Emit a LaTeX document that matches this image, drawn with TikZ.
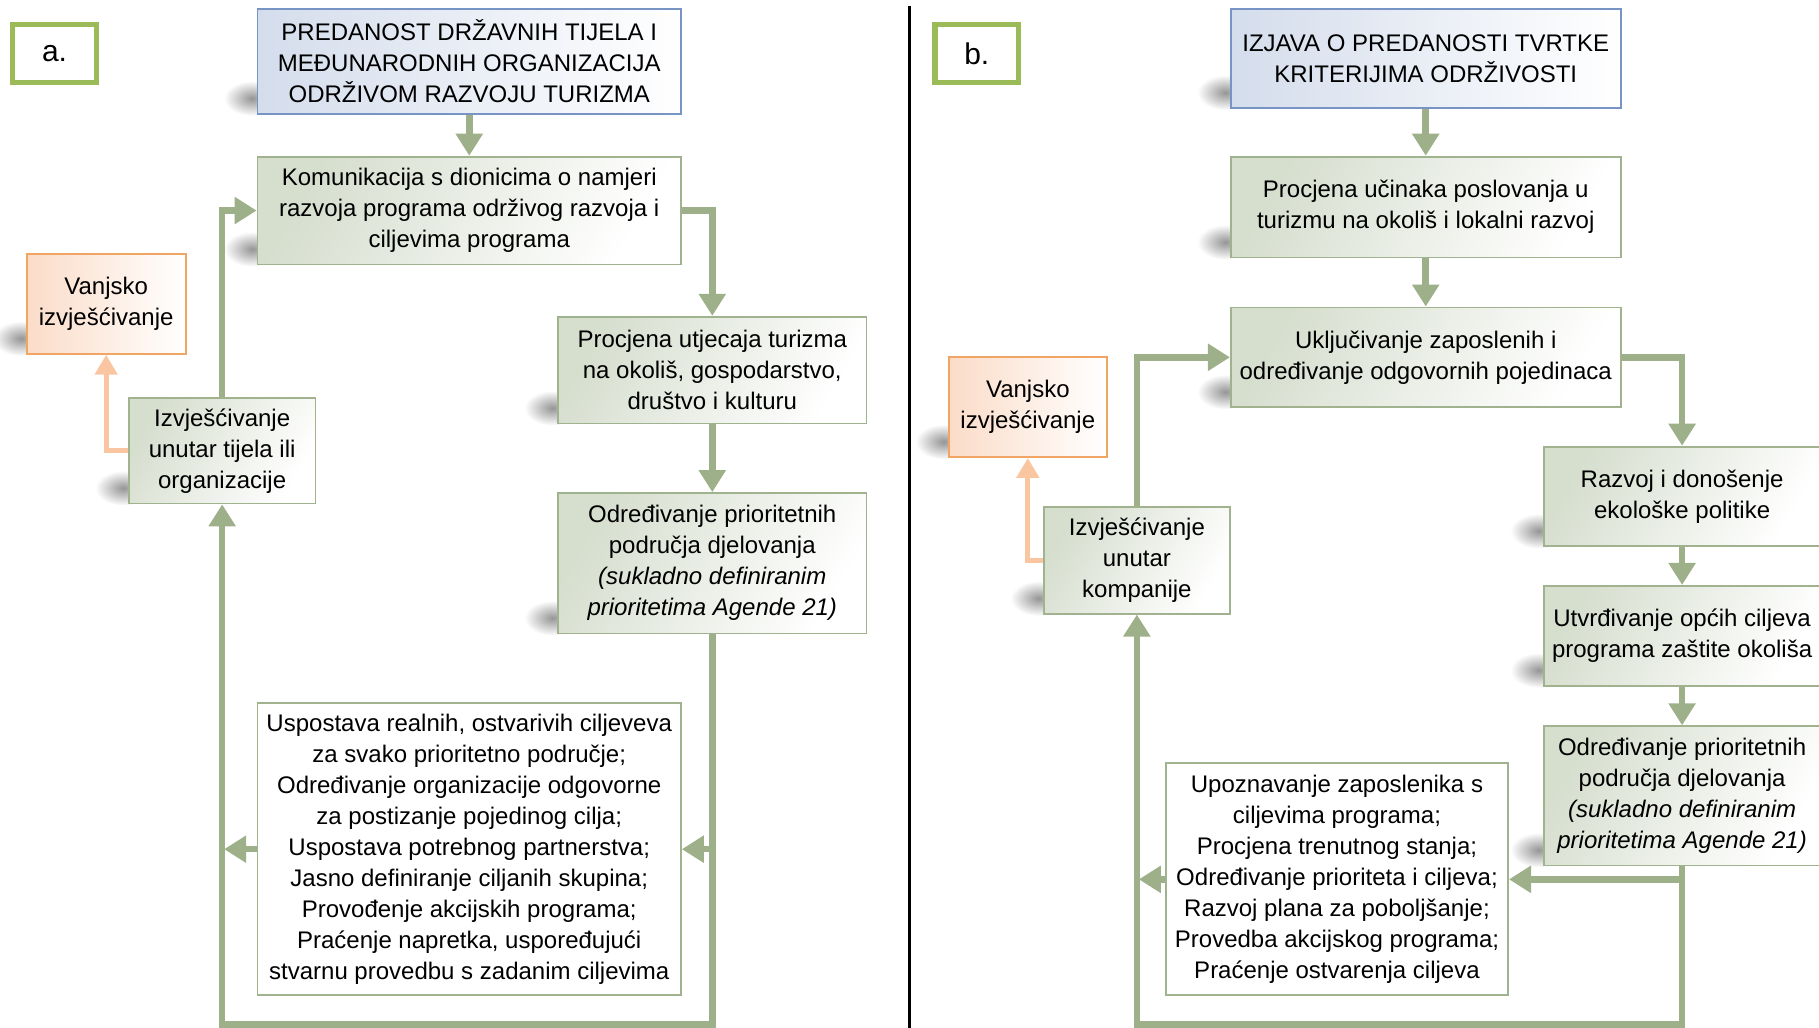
\documentclass[tikz,border=0pt]{standalone}
\usepackage{fontspec}
\setmainfont{Liberation Sans}
\usetikzlibrary{arrows.meta,fadings}
\pgfdeclarelayer{background}
\pgfsetlayers{background,main}
\tikzfading[name=softblob, inner color=transparent!0, outer color=transparent!100]
\definecolor{gfill}{RGB}{214,222,206}
\definecolor{gborder}{RGB}{160,178,142}
\definecolor{arrcol}{RGB}{157,176,137}
\definecolor{bfill}{RGB}{212,221,236}
\definecolor{bborder}{RGB}{120,148,196}
\definecolor{ofill}{RGB}{251,220,200}
\definecolor{oborder}{RGB}{240,165,100}
\definecolor{oarrcol}{RGB}{250,198,162}
\definecolor{lblborder}{RGB}{155,187,89}
\begin{document}
\begin{tikzpicture}[x=0.58pt,y=-0.58pt,
  font=\fontsize{12}{15.5}\selectfont,
  sz/.style 2 args={minimum width=#1*0.58pt, minimum height=#2*0.58pt},
  basebox/.style={align=center, inner sep=2pt, line width=0.9pt},
  gbox/.style={basebox, draw=gborder, shading=axis, left color=gfill, right color=white, shading angle=60},
  bbox/.style={basebox, draw=bborder, shading=axis, left color=bfill, right color=white},
  obox/.style={basebox, draw=oborder, shading=axis, left color=ofill, right color=white},
  wbox/.style={basebox, draw=gborder, fill=white},
  lbl/.style={draw=lblborder, line width=2.6pt, fill=white, inner sep=0pt, font=\fontsize{15}{18}\selectfont},
  arr/.style={draw=arrcol, line width=3.3pt, -{Triangle[width=13pt,length=11pt]}},
  oarr/.style={draw=oarrcol, line width=2.6pt, -{Triangle[width=11pt,length=10pt]}},
  blob/.style={fill=black!75, fill opacity=0.55, path fading=softblob}
]
\clip (0,0) rectangle (1568,886);

% divider
\draw[black, line width=1.1pt] (784,5) -- (784,886);

% ---------------- panel a ----------------
\node[lbl, sz={72}{50}] (la) at (47,46) {a.\hspace{6pt}};
\node[bbox, sz={365}{90}] (ta) at (404.5,53) {PREDANOST DRŽAVNIH TIJELA I\\MEĐUNARODNIH ORGANIZACIJA\\ODRŽIVOM RAZVOJU TURIZMA};
\node[gbox, sz={365}{93}] (koma) at (404.5,181.5) {Komunikacija s dionicima o namjeri\\razvoja programa održivog razvoja i\\ciljevima programa};
\node[gbox, sz={266}{92}] (proca) at (614,319) {Procjena utjecaja turizma\\na okoliš, gospodarstvo,\\društvo i kulturu};
\node[gbox, sz={266}{121}] (odra) at (614,485.5) {Određivanje prioritetnih\\područja djelovanja\\\textit{(sukladno definiranim}\\\textit{prioritetima Agende 21)}};
\node[wbox, sz={365}{252}] (uspa) at (404.5,732) {Uspostava realnih, ostvarivih ciljeveva\\za svako prioritetno područje;\\Određivanje organizacije odgovorne\\za postizanje pojedinog cilja;\\Uspostava potrebnog partnerstva;\\Jasno definiranje ciljanih skupina;\\Provođenje akcijskih programa;\\Praćenje napretka, uspoređujući\\stvarnu provedbu s zadanim ciljevima};
\node[gbox, sz={161}{91}] (izva) at (191.5,388.5) {Izvješćivanje\\unutar tijela ili\\organizacije};
\node[obox, sz={137}{86}] (vana) at (91.5,262) {Vanjsko\\izvješćivanje};
\coordinate (loopa) at (400,883);

\draw[arr] (ta.south) -- (koma.north);
\draw[arr] (koma.east) -| (proca.north);
\draw[arr] (proca.south) -- (odra.north);
\draw[arr] (odra.south) |- (loopa) -| (izva.south);
\draw[arr] (odra.south |- uspa.east) -- (uspa.east);
\draw[arr, shorten >=1pt] (uspa.west) -- (izva.south |- uspa.west);
\draw[arr] (izva.north) |- (koma.west);
\draw[oarr] (izva.west) -| (vana.south);

% ---------------- panel b ----------------
\node[lbl, sz={72}{50}] (lb) at (842,46) {b.\hspace{6pt}};
\node[bbox, sz={336}{85}] (tb) at (1229,50.5) {IZJAVA O PREDANOSTI TVRTKE\\KRITERIJIMA ODRŽIVOSTI};
\node[gbox, sz={336}{87}] (procb) at (1229,178.5) {Procjena učinaka poslovanja u\\turizmu na okoliš i lokalni razvoj};
\node[gbox, sz={336}{86}] (uklb) at (1229,308) {Uključivanje zaposlenih i\\određivanje odgovornih pojedinaca};
\node[gbox, sz={238}{86}] (razb) at (1450,428) {Razvoj i donošenje\\ekološke politike};
\node[gbox, sz={238}{86}] (utvb) at (1450,548) {Utvrđivanje općih ciljeva\\programa zaštite okoliša};
\node[gbox, sz={238}{120}] (odrb) at (1450,686) {Određivanje prioritetnih\\područja djelovanja\\\textit{(sukladno definiranim}\\\textit{prioritetima Agende 21)}};
\node[wbox, sz={295}{200}] (upob) at (1152.5,758) {Upoznavanje zaposlenika s\\ciljevima programa;\\Procjena trenutnog stanja;\\Određivanje prioriteta i ciljeva;\\Razvoj plana za poboljšanje;\\Provedba akcijskog programa;\\Praćenje ostvarenja ciljeva};
\node[gbox, sz={160}{92}] (izvb) at (980,483) {Izvješćivanje\\unutar\\kompanije};
\node[obox, sz={136}{86}] (vanb) at (886,351) {Vanjsko\\izvješćivanje};
\coordinate (loopb) at (1200,883);

\draw[arr] (tb.south) -- (procb.north);
\draw[arr] (procb.south) -- (uklb.north);
\draw[arr] (uklb.east) -| (razb.north);
\draw[arr] (razb.south) -- (utvb.north);
\draw[arr] (utvb.south) -- (odrb.north);
\draw[arr] (odrb.south) |- (loopb) -| (izvb.south);
\draw[arr] (odrb.south |- upob.east) -- (upob.east);
\draw[arr, shorten >=1pt] (upob.west) -- (izvb.south |- upob.west);
\draw[arr] (izvb.north) |- (uklb.west);
\draw[oarr] (izvb.west) -| (vanb.south);

% soft shadows at the lower-left corners
\begin{pgfonlayer}{background}
\fill[white] (0,0) rectangle (1568,886);
\foreach \n in {ta,koma,proca,odra,izva,vana,tb,procb,uklb,razb,utvb,odrb,izvb,vanb}
  \fill[blob, shift={(\n.south west)}] (-4,-14) ellipse [x radius=24, y radius=15];
\end{pgfonlayer}
\end{tikzpicture}
\end{document}
